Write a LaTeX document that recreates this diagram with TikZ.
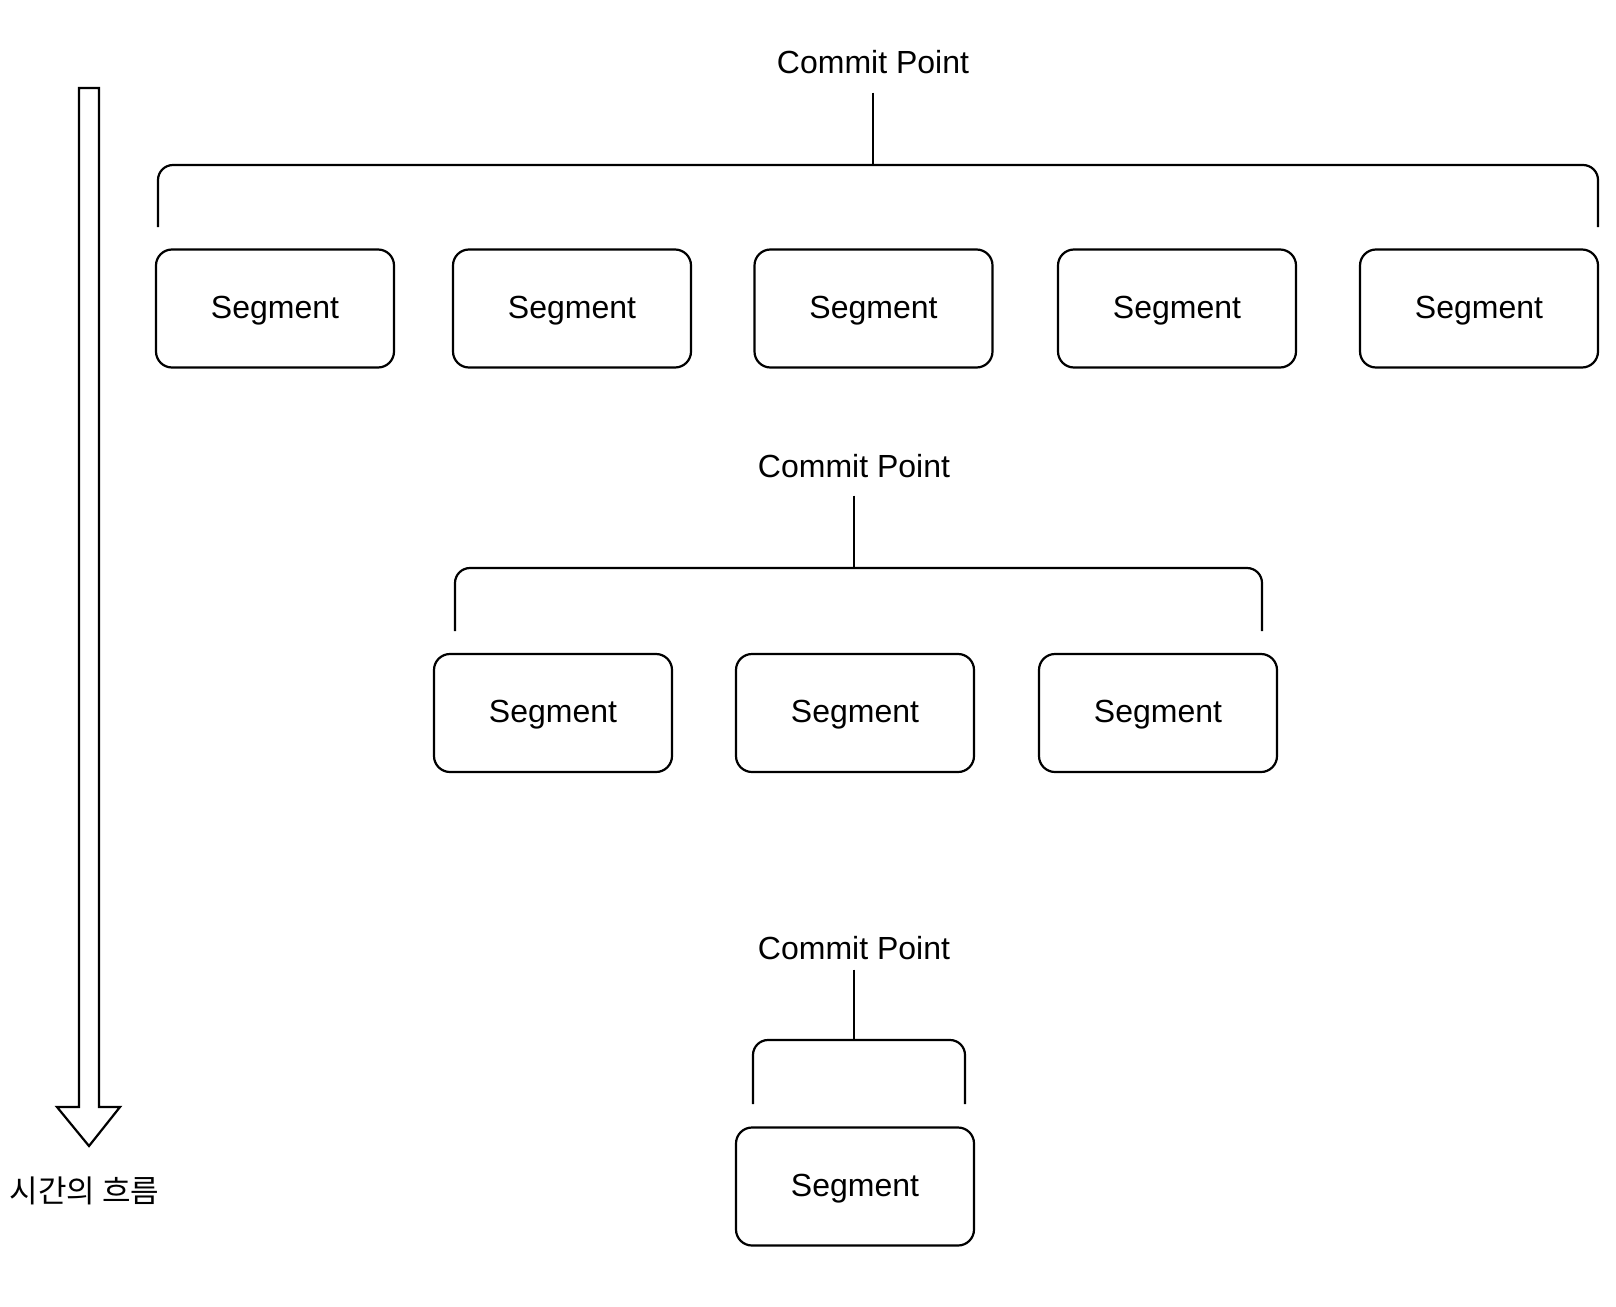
\documentclass[tikz,border=0pt]{standalone}
\usepackage{fontspec}
\setmainfont{Liberation Sans}
\newfontfamily\krfont{Noto Sans CJK KR}
\usepackage{tikz}
\tikzset{
	segbox/.style={draw, line width=2.2pt, rounded corners=16pt, minimum width=238pt, minimum height=118pt, text depth=3pt, font=\fontsize{32}{38}\selectfont},
	cplabel/.style={inner sep=0pt, anchor=base, font=\fontsize{32}{38}\selectfont},
	bline/.style={line width=2.2pt}
}
\def\segbracket(#1:#2:#3:#4){\draw[bline, rounded corners=15pt] (#1,#4) -- (#1,#3) -- (#2,#3) -- (#2,#4);}

\begin{document}
\begin{tikzpicture}[x=1pt, y=-1pt]
				\useasboundingbox (0,0) rectangle (1616,1306);
				
				\draw[bline] (79,88) -- (99,88) -- (99,1107) -- (120,1107) -- (89,1146) -- (57,1107) -- (79,1107) -- cycle;
				\node (flow) at (84.5,1191) {\krfont\fontsize{31}{37}\selectfont 시간의 흐름};
				
				\node[cplabel] (cp1) at (873,74) {Commit Point};
				\coordinate (top1) at (873,165);
				\segbracket(158:1598:165:227);
				\draw[bline] ([yshift=-18pt]cp1.south) -- (top1);
				\node[segbox] (s11) at (275,308.5) {Segment};
				\node[segbox] (s12) at (572,308.5) {Segment};
				\node[segbox] (s13) at (873.5,308.5) {Segment};
				\node[segbox] (s14) at (1177,308.5) {Segment};
				\node[segbox] (s15) at (1479,308.5) {Segment};
				
				\node[cplabel] (cp2) at (854,477) {Commit Point};
				\coordinate (top2) at (854,568);
				\segbracket(455:1262:568:631);
				\draw[bline] ([yshift=-18pt]cp2.south) -- (top2);
				\node[segbox] (s21) at (553,713) {Segment};
				\node[segbox] (s22) at (855,713) {Segment};
				\node[segbox] (s23) at (1158,713) {Segment};
				
				\node[cplabel] (cp3) at (854,959) {Commit Point};
				\coordinate (top3) at (854,1040);
				\segbracket(753:965:1040:1104);
				\draw[bline] ([yshift=-10pt]cp3.south) -- (top3);
				\node[segbox] (s31) at (855,1186.5) {Segment};
\end{tikzpicture}
\end{document}
